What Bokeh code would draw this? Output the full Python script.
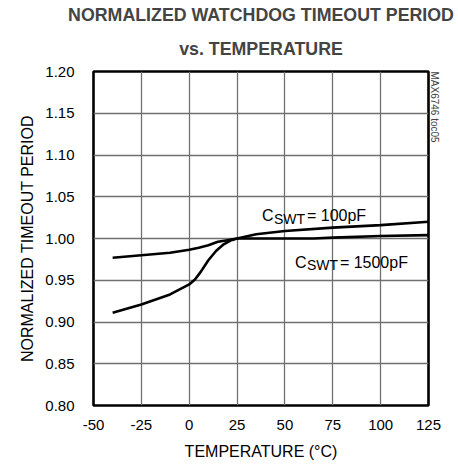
import math
from bokeh.plotting import figure
from bokeh.models import FixedTicker, Title, CustomJSTickFormatter
from bokeh.core.properties import value
from bokeh.embed import file_html
from bokeh.resources import INLINE

# ---- data ----
temp_100 = [-40, -25, -10, 0, 5, 10, 15, 20, 25, 35, 50, 75, 100, 125]
norm_100 = [0.977, 0.980, 0.983, 0.9865, 0.989, 0.992, 0.996, 0.998, 1.000, 1.005, 1.009, 1.013, 1.016, 1.020]

temp_1500 = [-40, -25, -10, 0, 3, 6, 10, 14, 18, 22, 25, 35, 50, 65, 75, 100, 125]
norm_1500 = [0.911, 0.921, 0.933, 0.945, 0.951, 0.960, 0.974, 0.985, 0.993, 0.998, 1.000, 1.000, 1.000, 1.000, 1.001, 1.003, 1.004]

x_ticks = [-50, -25, 0, 25, 50, 75, 100, 125]
y_ticks = [0.80, 0.85, 0.90, 0.95, 1.00, 1.05, 1.10, 1.15, 1.20]

label_100 = ("C", "SWT", "= 100pF")
label_1500 = ("C", "SWT", "= 1500pF")
label_100_pos = (38.0, 1.027)
label_1500_pos = (55.2, 0.9714)

FONT = "Liberation Sans"

p = figure(frame_width=335, frame_height=334, x_range=(-50, 125), y_range=(0.80, 1.20),
           output_backend="svg", toolbar_location=None,
           min_border_left=93, min_border_right=30, min_border_top=71, min_border_bottom=60)

p.background_fill_color = "white"
p.border_fill_color = "white"
p.outline_line_color = "black"
p.outline_line_width = 2.6

p.xaxis.ticker = FixedTicker(ticks=x_ticks)
p.yaxis.ticker = FixedTicker(ticks=y_ticks)
p.xaxis.formatter = CustomJSTickFormatter(code="return String(tick);")
p.yaxis.formatter = CustomJSTickFormatter(code="return tick.toFixed(2);")

for ax in (p.xaxis, p.yaxis):
    ax.axis_line_color = None
    ax.major_tick_line_color = None
    ax.minor_tick_line_color = None
    ax.major_tick_out = 0
    ax.major_tick_in = 0
    ax.minor_tick_out = 0
    ax.minor_tick_in = 0
    ax.major_label_text_font = FONT
    ax.major_label_text_font_size = "15px"
    ax.major_label_text_color = "black"
    ax.axis_label_text_font = FONT
    ax.axis_label_text_font_size = "16px"
    ax.axis_label_text_font_style = "normal"
    ax.axis_label_text_color = "black"

p.xaxis.axis_label = "TEMPERATURE (°C)"
p.yaxis.axis_label = "NORMALIZED TIMEOUT PERIOD"
p.xaxis.major_label_standoff = 14
p.yaxis.major_label_standoff = 19
p.xaxis.axis_label_standoff = 10
p.yaxis.axis_label_standoff = 6

p.grid.grid_line_color = "#707070"
p.grid.grid_line_width = 1.3
p.xgrid.ticker = FixedTicker(ticks=x_ticks)
p.ygrid.ticker = FixedTicker(ticks=y_ticks)

p.line(temp_100, norm_100, line_color="black", line_width=2.6)
p.line(temp_1500, norm_1500, line_color="black", line_width=2.6)

def add_label(parts, pos):
    x, y = pos
    p.text([x], [y], text=[parts[0]], text_font=value(FONT), text_font_size="16px",
           text_baseline="alphabetic", text_align="left", text_color="black")
    p.text([x], [y], text=[parts[1]], text_font=value(FONT), text_font_size="14px",
           text_baseline="alphabetic", text_align="left", text_color="black",
           x_offset=12, y_offset=3)
    p.text([x], [y], text=[parts[2]], text_font=value(FONT), text_font_size="16px",
           text_baseline="alphabetic", text_align="left", text_color="black",
           x_offset=45)

add_label(label_100, label_100_pos)
add_label(label_1500, label_1500_pos)

p.add_layout(Title(text="MAX6746 toc05", align="left", text_font=FONT,
                   text_font_size="10px", text_font_style="normal", standoff=0), "right")

p.add_layout(Title(text="vs. TEMPERATURE", align="center", text_font=FONT,
                   text_font_size="17.8px", text_font_style="bold", standoff=25), "above")
p.add_layout(Title(text="NORMALIZED WATCHDOG TIMEOUT PERIOD", align="center", text_font=FONT,
                   text_font_size="17.8px", text_font_style="bold", standoff=0), "above")

open("out.html", "w").write(file_html(p, INLINE))
